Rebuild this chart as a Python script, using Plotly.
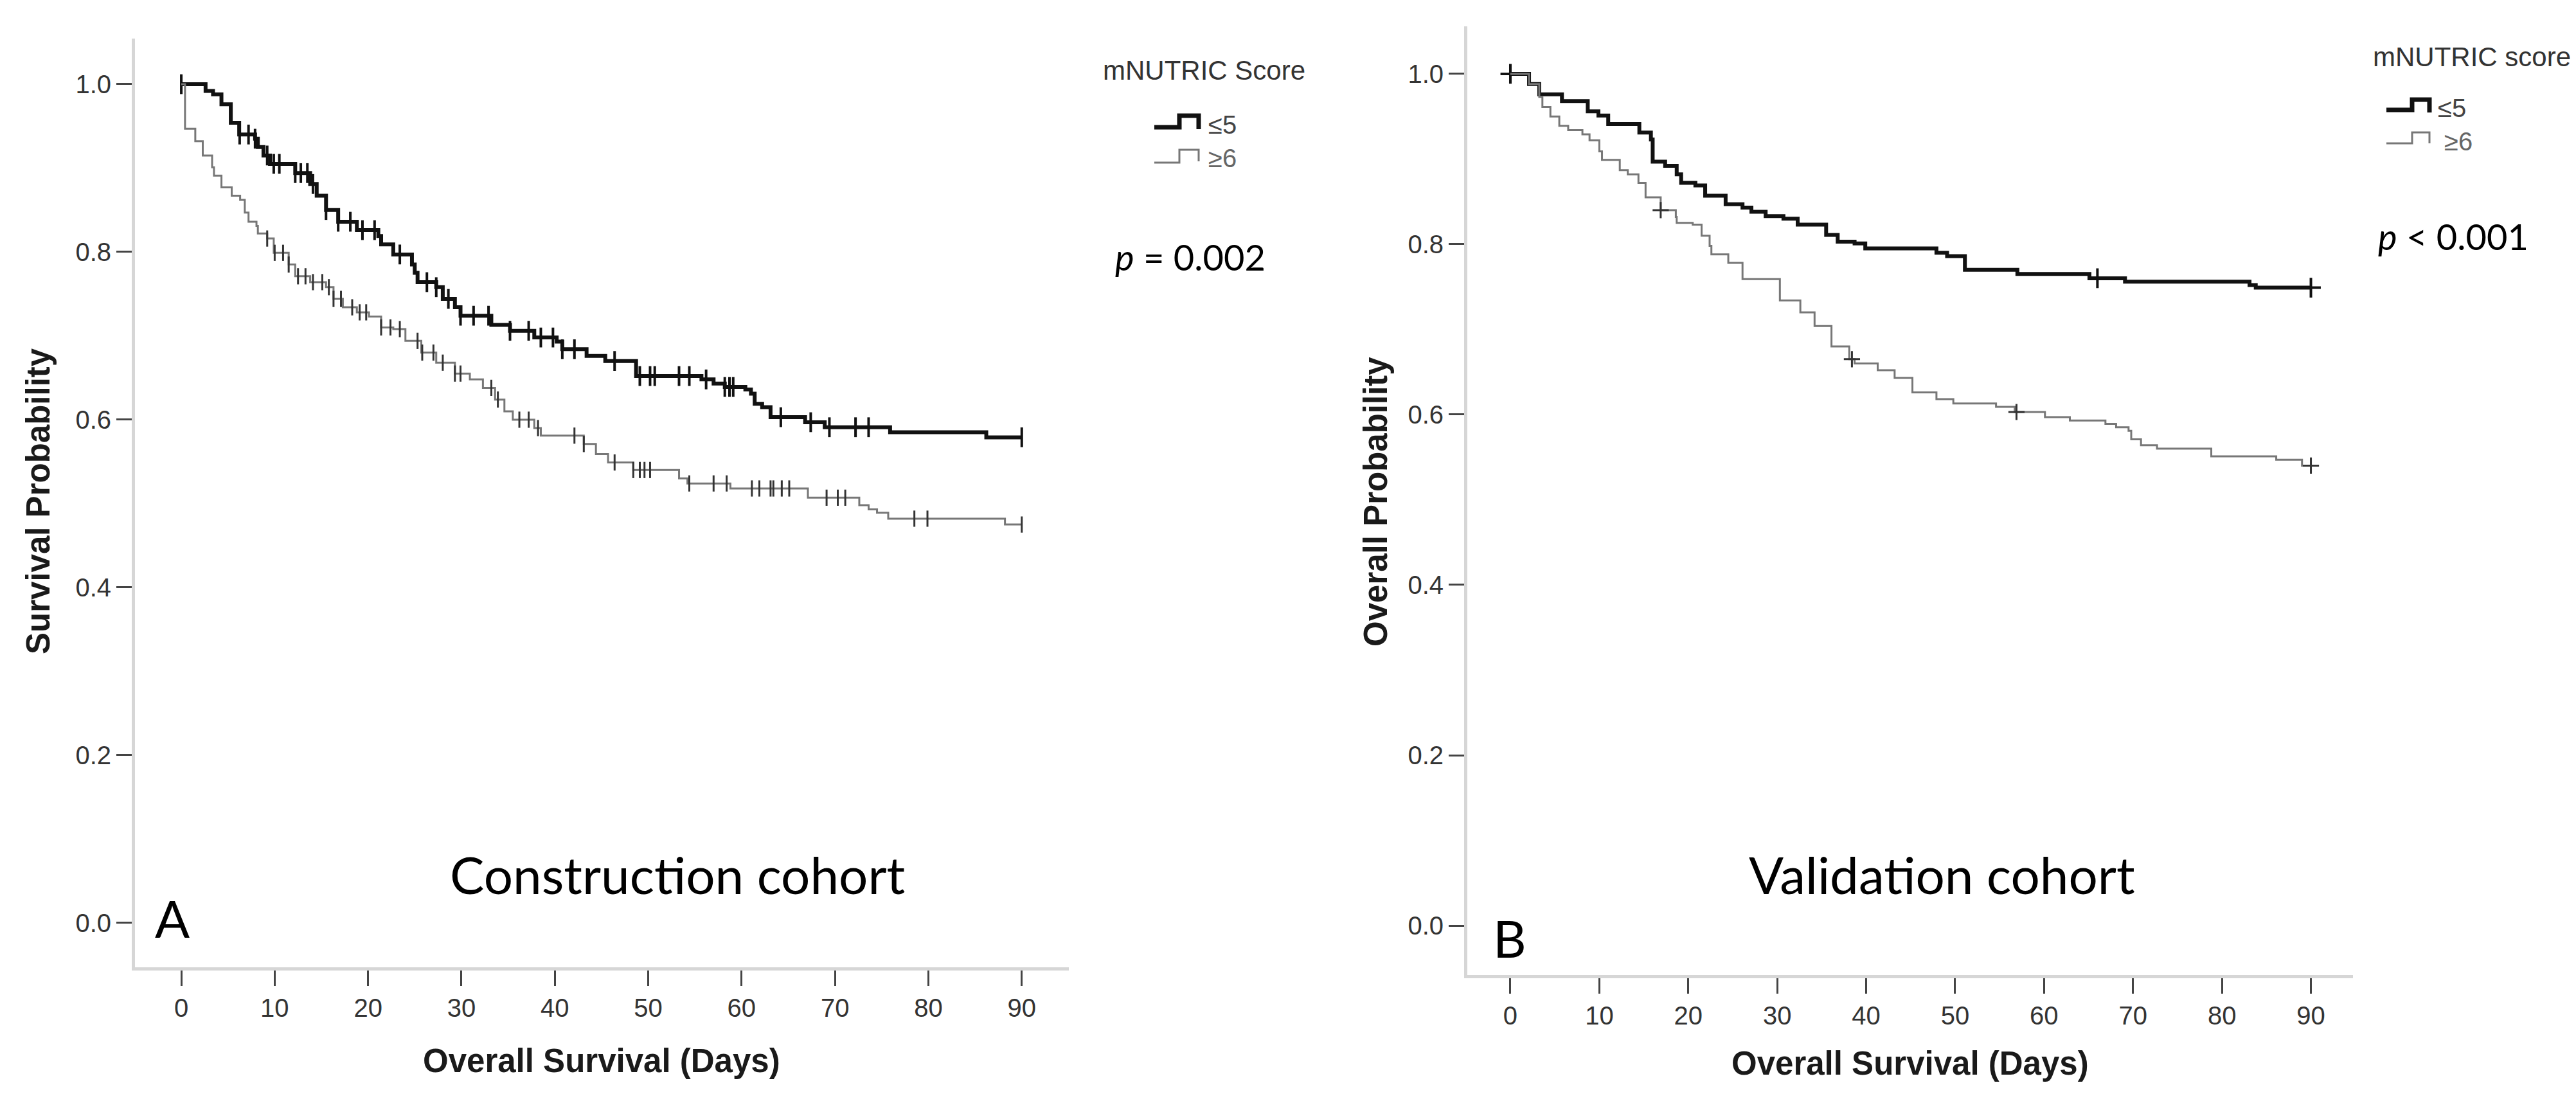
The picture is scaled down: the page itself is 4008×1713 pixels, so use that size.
import numpy as np
import plotly.graph_objects as go

# ---------------- DATA ----------------
x_ticks = [0, 10, 20, 30, 40, 50, 60, 70, 80, 90]
y_ticks = [0.0, 0.2, 0.4, 0.6, 0.8, 1.0]
end_day = 90

# Panel A (construction cohort) -- step times (days) and survival after each step
a_low_t = [0, 2.6, 3.4, 4.3, 5.3, 6.2, 7.9, 8.2, 8.8, 9.5, 12.2, 13.8, 14.5, 15.5, 16.8, 18.8,
           21.1, 21.4, 22.7, 24.7, 25.0, 25.3, 27.3, 28.0, 29.3, 29.9, 33.2, 35.2, 37.8, 40.2,
           40.8, 43.4, 45.4, 48.7, 55.7, 57.0, 58.2, 60.4, 61.0, 61.4, 62.2, 63.1, 66.8, 68.9,
           75.9, 86.2]
a_low_s = [1.0, 0.992, 0.988, 0.976, 0.954, 0.940, 0.935, 0.925, 0.915, 0.905, 0.894, 0.881,
           0.867, 0.850, 0.836, 0.826, 0.819, 0.809, 0.797, 0.785, 0.775, 0.764, 0.758, 0.744,
           0.734, 0.724, 0.713, 0.706, 0.698, 0.693, 0.684, 0.676, 0.670, 0.652, 0.648, 0.643,
           0.639, 0.636, 0.631, 0.619, 0.615, 0.603, 0.597, 0.591, 0.585, 0.579]
a_high_t = [0, 0.4, 1.5, 2.3, 3.3, 3.5, 4.3, 5.4, 6.3, 6.8, 7.2, 8.05, 8.2, 9.2, 9.9, 11.5, 12.2,
            13.8, 15.5, 16.3, 17.3, 18.8, 20.1, 21.4, 22.7, 24.0, 25.7, 27.3, 29.3, 30.9, 32.3,
            33.6, 34.6, 35.5, 37.8, 38.5, 43.1, 44.4, 45.7, 48.4, 53.3, 54.2, 58.8, 67.1, 72.6,
            73.6, 74.5, 75.7, 88.2]
a_high_s = [1.0, 0.947, 0.932, 0.915, 0.901, 0.891, 0.877, 0.867, 0.862, 0.847, 0.836, 0.831,
            0.822, 0.816, 0.799, 0.785, 0.771, 0.764, 0.758, 0.744, 0.734, 0.728, 0.723, 0.710,
            0.708, 0.694, 0.680, 0.668, 0.655, 0.648, 0.638, 0.624, 0.610, 0.600, 0.590, 0.581,
            0.571, 0.559, 0.549, 0.540, 0.530, 0.524, 0.518, 0.507, 0.498, 0.493, 0.489, 0.482,
            0.475]
a_low_cens = [0, 6.25, 7.2, 7.9, 9.2, 9.9, 10.5, 12.2, 12.8, 13.5, 14.1, 15.5, 16.8, 18.1, 19.4,
              20.7, 23.4, 26.3, 27.3, 28.6, 29.9, 31.3, 32.9, 35.2, 37.2, 38.5, 39.8, 40.8, 42.1,
              46.4, 49.1, 50.2, 50.7, 53.3, 54.4, 56.2, 58.2, 58.7, 59.1, 64.2, 67.4, 69.4, 72.2,
              73.6, 90]
a_high_cens = [9.2, 10.0, 10.9, 11.5, 12.5, 13.3, 14.1, 15.1, 15.8, 16.3, 17.1, 18.3, 19.1, 19.8,
               21.4, 22.4, 23.4, 25.3, 25.8, 27.0, 28.0, 29.3, 29.9, 33.2, 33.9, 36.2, 37.2, 38.2,
               42.1, 43.1, 46.4, 48.4, 49.1, 49.6, 50.2, 54.4, 57.0, 58.4, 61.1, 61.9, 63.1, 63.4,
               64.3, 65.1, 69.1, 70.3, 71.1, 78.5, 79.9, 90]

# Panel B (validation cohort)
b_low_t = [0, 2.1, 3.25, 5.8, 8.7, 9.9, 11.0, 14.5, 15.8, 16.0, 17.4, 18.7, 19.2, 20.8, 21.9,
           24.2, 26.1, 27.1, 28.7, 30.7, 32.3, 35.5, 36.8, 38.7, 39.9, 47.9, 49.1, 51.1, 57.0,
           65.1, 69.1, 83.1, 83.8]
b_low_s = [1.0, 0.988, 0.976, 0.968, 0.956, 0.951, 0.941, 0.931, 0.923, 0.897, 0.892, 0.882,
           0.872, 0.869, 0.857, 0.847, 0.843, 0.838, 0.833, 0.830, 0.823, 0.811, 0.803, 0.801,
           0.795, 0.790, 0.786, 0.770, 0.765, 0.760, 0.756, 0.752, 0.749]
b_high_t = [0, 2.1, 3.25, 3.6, 4.5, 5.5, 6.5, 8.1, 8.9, 10.0, 10.3, 12.3, 13.2, 14.4, 15.2, 16.9,
            18.6, 18.7, 20.5, 21.5, 22.4, 22.6, 24.5, 26.1, 30.3, 32.6, 34.2, 36.1, 38.1, 38.7,
            41.3, 43.2, 45.2, 47.9, 49.8, 54.6, 56.7, 60.1, 62.9, 66.9, 68.1, 69.5, 69.8, 70.9,
            72.7, 78.8, 86.1, 89.0]
b_high_s = [1.0, 0.988, 0.973, 0.961, 0.950, 0.939, 0.934, 0.929, 0.922, 0.909, 0.899, 0.887,
            0.882, 0.872, 0.855, 0.840, 0.832, 0.825, 0.823, 0.810, 0.798, 0.788, 0.778, 0.759,
            0.734, 0.720, 0.704, 0.680, 0.665, 0.660, 0.652, 0.643, 0.626, 0.618, 0.613, 0.609,
            0.603, 0.597, 0.593, 0.589, 0.585, 0.581, 0.571, 0.564, 0.560, 0.551, 0.547, 0.540]
b_low_cens = [0, 66.0, 90]
b_high_cens = [16.9, 38.4, 56.9, 90]

group_names = ["≤5", "≥6"]
legend_titles = ["mNUTRIC Score", "mNUTRIC score"]
p_texts = ["<i>p</i> = 0.002", "<i>p</i> &lt; 0.001"]
cohort_texts = ["Construction cohort", "Validation cohort"]
panel_letters = ["A", "B"]
y_titles = ["Survival Probability", "Overall Probability"]
x_title = "Overall Survival (Days)"

# ---------------- FIGURE ----------------
W, H = 4008, 1713


def px(x):
    return x / W


def py(y):
    return 1 - y / H


def step_value(t, s, c):
    idx = np.searchsorted(np.array(t), np.array(c), side="right") - 1
    return np.array(s)[np.clip(idx, 0, len(s) - 1)]


LOW_COLOR = "#111111"
HIGH_COLOR = "#777777"
fig = go.Figure()

panels = [
    dict(t=(a_low_t, a_high_t), s=(a_low_s, a_high_s), c=(a_low_cens, a_high_cens),
         xa="x", ya="y", sym="line-ns"),
    dict(t=(b_low_t, b_high_t), s=(b_low_s, b_high_s), c=(b_low_cens, b_high_cens),
         xa="x2", ya="y2", sym="cross-thin"),
]

for p in panels:
    for k in range(2):
        t, s, c = p["t"][k], p["s"][k], p["c"][k]
        thick = k == 0
        fig.add_trace(go.Scatter(
            x=list(t) + [end_day], y=list(s) + [s[-1]], mode="lines",
            line=dict(shape="hv", color=LOW_COLOR if thick else HIGH_COLOR,
                      width=6 if thick else 3),
            xaxis=p["xa"], yaxis=p["ya"], showlegend=False, hoverinfo="skip"))
        fig.add_trace(go.Scatter(
            x=c, y=step_value(t, s, c), mode="markers",
            marker=dict(symbol=p["sym"], size=22 if thick else 18,
                        line=dict(color="#111111" if thick else "#333333",
                                  width=4 if thick else 3)),
            xaxis=p["xa"], yaxis=p["ya"], showlegend=False, hoverinfo="skip"))

axis_common = dict(showgrid=False, zeroline=False, showline=True, linecolor="#d6d6d6",
                   linewidth=5, ticks="outside", ticklen=24, tickwidth=3, tickcolor="#444444",
                   tickfont=dict(family="Liberation Sans, Arial", size=40, color="#333333"))

fig.update_layout(
    width=W, height=H, autosize=False,
    margin=dict(l=0, r=0, t=0, b=0),
    paper_bgcolor="white", plot_bgcolor="white",
    xaxis=dict(domain=[px(202), px(1655)], range=[-4.96, 95.04], tickvals=x_ticks,
               anchor="y", **axis_common),
    yaxis=dict(domain=[py(1497), py(52)], range=[-0.0529, 1.0544], tickvals=y_ticks,
               tickformat=".1f", anchor="x", **axis_common),
    xaxis2=dict(domain=[px(2275), px(3653)], range=[-4.84, 94.73], tickvals=x_ticks,
                anchor="y2", **axis_common),
    yaxis2=dict(domain=[py(1509), py(33)], range=[-0.0581, 1.0558], tickvals=y_ticks,
                tickformat=".1f", anchor="x2", **axis_common),
)

annotations = []
shapes = []
arial = "Liberation Sans, Arial"
humanist = "Lato, Open Sans"

layout_px = [
    dict(ytitle=(51, 772), xtitle=(928, 1642), cohort=(1046, 1352), letter=(260, 1420),
         legtitle=(2025, 102), p=(1725, 392),
         leg_low=(1788, 1827, 1857, 190, 172, 193), leg_high=(1788, 1827, 1857, 245, 225, 243),
         lab_low=(1870, 186), lab_high=(1870, 238)),
    dict(ytitle=(2132, 773), xtitle=(2964, 1646), cohort=(3013, 1352), letter=(2341, 1451),
         legtitle=(3994, 80), p=(3690, 360),
         leg_low=(3705, 3745, 3772, 163, 147, 167), leg_high=(3705, 3745, 3772, 215, 198, 215),
         lab_low=(3783, 160), lab_high=(3793, 212)),
]


def ann(pos, text, font, xanchor="center", angle=0):
    return dict(x=px(pos[0]), y=py(pos[1]), xref="paper", yref="paper", text=text,
                textangle=angle, showarrow=False, xanchor=xanchor, yanchor="middle", font=font)


for i, L in enumerate(layout_px):
    bold = dict(family=arial, size=51, color="#1a1a1a", weight="bold")
    big = dict(family=humanist, size=80, color="#000000")
    annotations += [
        ann(L["ytitle"], y_titles[i], bold, angle=-90),
        ann(L["xtitle"], x_title, bold),
        ann(L["cohort"], cohort_texts[i], big),
        ann(L["letter"], panel_letters[i], big),
        ann(L["legtitle"], legend_titles[i], dict(family=arial, size=42, color="#333333"), "right"),
        ann(L["p"], p_texts[i], dict(family=humanist, size=56, color="#000000"), "left"),
        ann(L["lab_low"], group_names[0], dict(family=arial, size=40, color="#444444"), "left"),
        ann(L["lab_high"], group_names[1], dict(family=arial, size=40, color="#666666"), "left"),
    ]
    for key, col, wid in (("leg_low", LOW_COLOR, 7), ("leg_high", HIGH_COLOR, 3)):
        x0, x1, x2, yl, yt, ye = L[key]
        path = (f"M {px(x0)},{py(yl)} L {px(x1)},{py(yl)} L {px(x1)},{py(yt)} "
                f"L {px(x2)},{py(yt)} L {px(x2)},{py(ye)}")
        shapes.append(dict(type="path", path=path, xref="paper", yref="paper",
                           line=dict(color=col, width=wid)))

fig.update_layout(annotations=annotations, shapes=shapes)

fig.write_html("out.html", config={"displayModeBar": False})
